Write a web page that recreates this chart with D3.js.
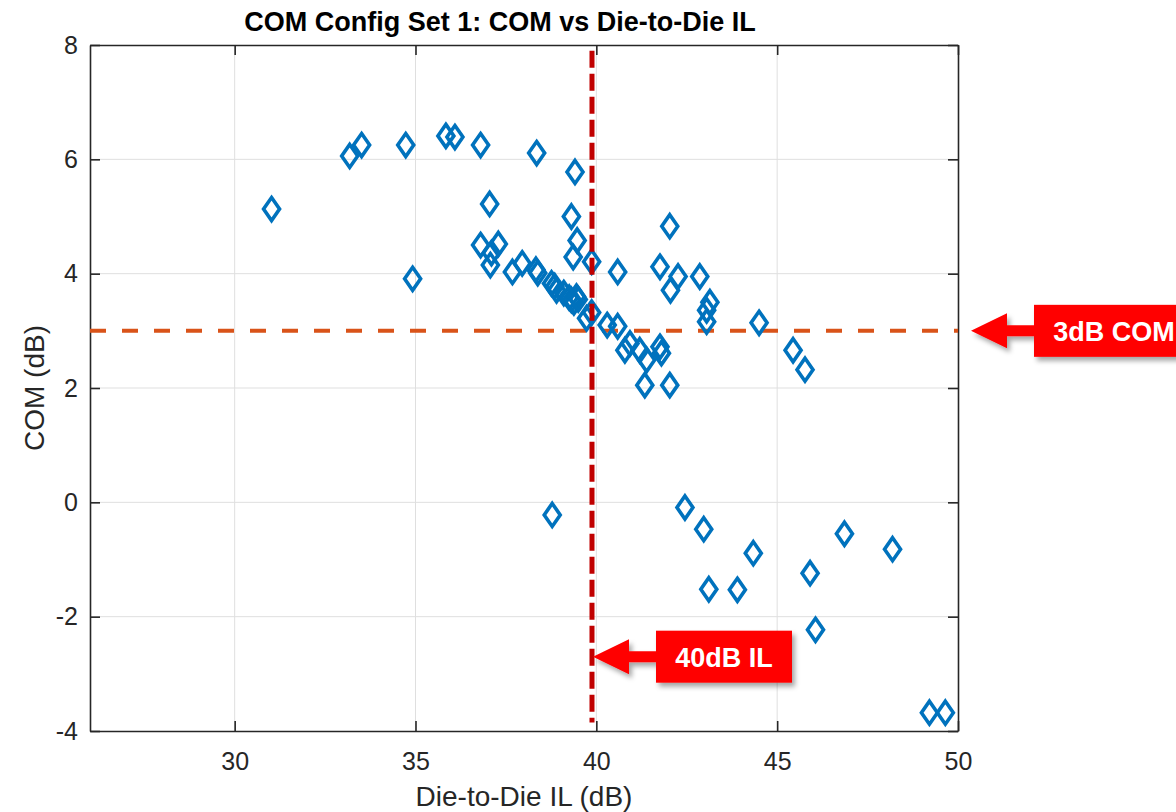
<!DOCTYPE html>
<html>
<head>
<meta charset="utf-8">
<script src="https://cdn.jsdelivr.net/npm/d3@7"></script>
<style>
  body { margin: 0; background: #fff; }
  svg { display: block; font-family: "Liberation Sans", Arial, sans-serif; }
</style>
</head>
<body>
<div id="chart"></div>
<script>
// Die-to-Die IL (dB) and COM (dB)
const ilValues = [
  31.02, 33.18, 33.51, 34.73, 35.84, 36.09, 36.80, 38.35, 39.41, 37.05,
  39.31, 42.03, 34.92, 36.80, 37.29, 37.10, 37.07, 37.68, 37.95, 38.33,
  38.38, 38.76, 38.85, 38.90, 39.10, 39.25, 39.31, 39.38, 39.45, 39.50,
  39.47, 39.36, 39.87, 39.87, 39.73, 40.30, 40.59, 40.59, 41.76, 42.26,
  42.05, 42.86, 43.14, 43.05, 43.05, 44.50, 40.79, 40.93, 41.20, 41.39,
  41.76, 41.80, 41.34, 42.03, 45.44, 45.77, 38.78, 42.45, 42.97, 44.34,
  43.11, 43.90, 45.91, 46.86, 48.19, 46.06, 49.21, 49.65
];
const comValues = [
  5.13, 6.06, 6.25, 6.25, 6.41, 6.39, 6.25, 6.11, 5.78, 5.22,
  5.00, 4.83, 3.91, 4.50, 4.52, 4.36, 4.15, 4.03, 4.18, 4.07,
  4.01, 3.83, 3.78, 3.71, 3.66, 3.58, 3.54, 3.50, 3.60, 3.55,
  4.58, 4.29, 4.21, 3.32, 3.22, 3.10, 3.08, 4.03, 4.12, 3.95,
  3.71, 3.95, 3.50, 3.36, 3.16, 3.14, 2.66, 2.78, 2.66, 2.49,
  2.72, 2.61, 2.05, 2.05, 2.66, 2.32, -0.22, -0.09, -0.47, -0.89,
  -1.52, -1.53, -1.24, -0.55, -0.82, -2.23, -3.68, -3.68
];
const xTicks = [30, 35, 40, 45, 50];
const yTicks = [-4, -2, 0, 2, 4, 6, 8];
const xDomain = [26, 50];
const yDomain = [-4, 8];
const comLimit = 3;      // dB, horizontal reference
const ilLimit = 39.88;   // dB, vertical reference as drawn
const ilLineSpan = [-3.85, 7.9];

const titleText = "COM Config Set 1: COM vs Die-to-Die IL";
const xLabel = "Die-to-Die IL (dB)";
const yLabel = "COM (dB)";
const comNote = "3dB COM";
const ilNote = "40dB IL";

const W = 1176, H = 812;
const margin = { left: 90, top: 45, right: 218, bottom: 81 };
const innerW = W - margin.left - margin.right;
const innerH = H - margin.top - margin.bottom;
const textColor = "#262626";

const svg = d3.select("#chart").append("svg")
  .attr("width", W)
  .attr("height", H);

const defs = svg.append("defs");
defs.append("filter")
  .attr("id", "shadow")
  .attr("x", "-20%").attr("y", "-40%")
  .attr("width", "160%").attr("height", "200%")
  .append("feDropShadow")
  .attr("dx", 3).attr("dy", 4)
  .attr("stdDeviation", 2.5)
  .attr("flood-color", "#000")
  .attr("flood-opacity", 0.35);
defs.append("filter")
  .attr("id", "glow")
  .attr("x", "-200%").attr("width", "500%")
  .append("feGaussianBlur")
  .attr("stdDeviation", 1.6);

const x = d3.scaleLinear().domain(xDomain).range([0, innerW]);
const y = d3.scaleLinear().domain(yDomain).range([innerH, 0]);

const g = svg.append("g")
  .attr("transform", `translate(${margin.left},${margin.top})`);

// grid
g.append("g").selectAll("line").data(xTicks.filter(d => d > xDomain[0] && d < xDomain[1]))
  .join("line")
  .attr("x1", d => x(d)).attr("x2", d => x(d))
  .attr("y1", 0).attr("y2", innerH)
  .attr("stroke", "#dfdfdf").attr("stroke-width", 1);
g.append("g").selectAll("line").data(yTicks.filter(d => d > yDomain[0] && d < yDomain[1]))
  .join("line")
  .attr("x1", 0).attr("x2", innerW)
  .attr("y1", d => y(d)).attr("y2", d => y(d))
  .attr("stroke", "#dfdfdf").attr("stroke-width", 1);

// axes (MATLAB style: ticks inward, box on)
const plainNum = d => String(d);
function styleAxis(sel) {
  sel.selectAll(".domain").attr("stroke", textColor).attr("stroke-width", 1.6);
  sel.selectAll(".tick line").attr("stroke", textColor).attr("stroke-width", 1.6);
  sel.selectAll(".tick text").attr("fill", textColor)
    .attr("font-size", 25).attr("font-family", "Liberation Sans, Arial, sans-serif");
}

g.append("g")
  .attr("transform", `translate(0,${innerH})`)
  .call(d3.axisBottom(x).tickValues(xTicks).tickFormat(plainNum)
    .tickSizeInner(-10).tickSizeOuter(0).tickPadding(21))
  .call(styleAxis);
g.append("g")
  .call(d3.axisTop(x).tickValues(xTicks).tickSizeInner(-10).tickSizeOuter(0).tickFormat(""))
  .call(styleAxis);
g.append("g")
  .call(d3.axisLeft(y).tickValues(yTicks).tickFormat(plainNum)
    .tickSizeInner(-10).tickSizeOuter(0).tickPadding(12))
  .call(styleAxis);
g.append("g")
  .attr("transform", `translate(${innerW},0)`)
  .call(d3.axisRight(y).tickValues(yTicks).tickSizeInner(-10).tickSizeOuter(0).tickFormat(""))
  .call(styleAxis);

// 3dB COM reference line
g.append("line")
  .attr("x1", 0).attr("x2", innerW)
  .attr("y1", y(comLimit)).attr("y2", y(comLimit))
  .attr("stroke", "#D95319")
  .attr("stroke-width", 4)
  .attr("stroke-dasharray", "16,16");

// markers
const points = d3.zip(ilValues, comValues);
const hw = 8, hh = 11.5;
g.append("g").selectAll("path").data(points)
  .join("path")
  .attr("d", `M0,${-hh}L${hw},0L0,${hh}L${-hw},0Z`)
  .attr("transform", d => `translate(${x(d[0])},${y(d[1])})`)
  .attr("fill", "none")
  .attr("stroke", "#0072BD")
  .attr("stroke-width", 3.6)
  .attr("stroke-linejoin", "miter");

// 40dB IL reference line, with grey halo
const ilX = x(ilLimit);
g.append("line")
  .attr("x1", ilX).attr("x2", ilX)
  .attr("y1", y(ilLineSpan[1])).attr("y2", y(ilLineSpan[0]))
  .attr("stroke", "#9a9a9a")
  .attr("stroke-opacity", 0.6)
  .attr("stroke-width", 8)
  .attr("filter", "url(#glow)");
g.append("line")
  .attr("x1", ilX).attr("x2", ilX)
  .attr("y1", y(ilLineSpan[1])).attr("y2", y(ilLineSpan[0]))
  .attr("stroke", "#C00000")
  .attr("stroke-width", 5)
  .attr("stroke-dasharray", "17,6");

// callout: block arrow plus red label box
function callout(tipX, tipY, boxX, boxW, label, textX) {
  const headLen = 36, headHalf = 17.5, shaftHalf = 5.5, boxHalf = 26;
  const grp = svg.append("g").attr("filter", "url(#shadow)");
  grp.append("path")
    .attr("d", `M${tipX},${tipY}L${tipX + headLen},${tipY - headHalf}` +
      `L${tipX + headLen},${tipY - shaftHalf}L${boxX + 2},${tipY - shaftHalf}` +
      `L${boxX + 2},${tipY + shaftHalf}L${tipX + headLen},${tipY + shaftHalf}` +
      `L${tipX + headLen},${tipY + headHalf}Z`)
    .attr("fill", "#FF0000");
  grp.append("rect")
    .attr("x", boxX).attr("y", tipY - boxHalf)
    .attr("width", boxW).attr("height", boxHalf * 2)
    .attr("fill", "#FF0000");
  svg.append("text")
    .attr("x", textX).attr("y", tipY + 10)
    .attr("text-anchor", "middle")
    .attr("fill", "#fff")
    .attr("font-size", 27)
    .attr("font-weight", "bold")
    .text(label);
}

const comTipY = margin.top + y(comLimit);
callout(margin.left + innerW + 13, comTipY, 1034, 160, comNote, 1114);
callout(margin.left + ilX + 1, margin.top + y(-2.7), 656, 136, ilNote, 724);

// labels
svg.append("text")
  .attr("x", 500)
  .attr("y", 31)
  .attr("text-anchor", "middle")
  .attr("fill", "#000")
  .attr("font-size", 27)
  .attr("font-weight", "bold")
  .text(titleText);

svg.append("text")
  .attr("x", margin.left + innerW / 2)
  .attr("y", 806)
  .attr("text-anchor", "middle")
  .attr("fill", textColor)
  .attr("font-size", 28)
  .text(xLabel);

svg.append("text")
  .attr("transform", `translate(44,${margin.top + innerH / 2}) rotate(-90)`)
  .attr("text-anchor", "middle")
  .attr("fill", textColor)
  .attr("font-size", 28)
  .text(yLabel);
</script>
</body>
</html>
